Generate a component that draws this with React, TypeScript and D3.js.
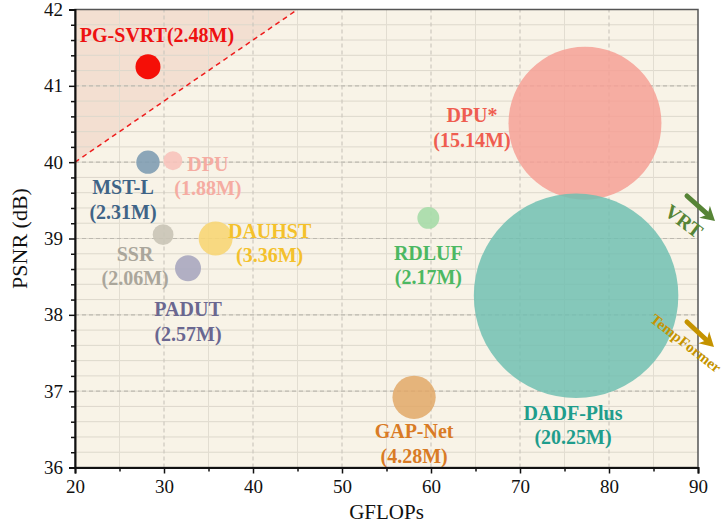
import * as d3 from "d3";
import { useEffect, useRef } from "react";

const names = ["PG-SVRT", "MST-L", "DPU", "SSR", "DAUHST", "PADUT", "RDLUF", "DPU*", "DADF-Plus", "GAP-Net"];
const gflops = [28.2, 28.2, 31.0, 29.9, 35.8, 32.7, 59.7, 77.3, 76.3, 58.1];
const psnr = [41.25, 40.0, 40.02, 39.05, 39.0, 38.61, 39.27, 40.51, 38.25, 36.92];
const params = [2.48, 2.31, 1.88, 2.06, 3.36, 2.57, 2.17, 15.14, 20.25, 4.28];
const fills = ["#f50f07", "#7f9db3", "#f7c3bb", "#c9c4b6", "#f7d676", "#a9a7bf", "#a6dba8", "#f6a095", "#71c0b2", "#e2a867"];
const textColors = ["#ee1111", "#3f6487", "#f5aca2", "#aaa69b", "#f4c12c", "#6a6790", "#4cb862", "#ef5d50", "#1f9d8c", "#d97b25"];
// label placement relative to the bubble centre, in pixels
const labelDx = [9, -25, 35, -28, 54, 0, 0, -113, -3, 0];
const labelDy = [-32, 25, 3, 19, -8, 41, 35, -8, 117, 34];

const xTicks = [20, 30, 40, 50, 60, 70, 80, 90];
const yTicks = [36, 37, 38, 39, 40, 41, 42];

const serif = "'Liberation Serif', 'Times New Roman', serif";

export default function App() {
  const ref = useRef<HTMLDivElement>(null);

  useEffect(() => {
    const width = 724;
    const height = 525;
    const margin = { top: 9.5, right: 26, bottom: 57.5, left: 75 };

    d3.select(ref.current).select("svg").remove();

    const svg = d3
      .select(ref.current)
      .append("svg")
      .attr("width", width)
      .attr("height", height)
      .style("display", "block")
      .attr("font-family", serif);

    const x = d3.scaleLinear().domain([20, 90]).range([margin.left, width - margin.right]);
    const y = d3.scaleLinear().domain([36, 42]).range([height - margin.bottom, margin.top]);
    const r = d3.scaleLinear().domain([0, 1]).range([0, 5.05]);

    const x0 = x(20), x1 = x(90), y0 = y(36), y1 = y(42);

    svg.append("rect")
      .attr("x", x0).attr("y", y1)
      .attr("width", x1 - x0).attr("height", y0 - y1)
      .attr("fill", "#f8f3e7");

    // shaded region above the dashed line
    svg.append("path")
      .attr("d", `M${x(20)},${y(40)} L${x(45)},${y(42)} L${x(20)},${y(42)} Z`)
      .attr("fill", "#f3dfd1");

    // minor grid
    const grid = svg.append("g");
    d3.range(36.2, 42, 0.2).forEach((v) => {
      grid.append("line")
        .attr("x1", x0).attr("x2", x1).attr("y1", y(v)).attr("y2", y(v))
        .attr("stroke", "#ddd8cc").attr("stroke-width", 1);
    });
    d3.range(25, 90, 10).forEach((v) => {
      grid.append("line")
        .attr("x1", x(v)).attr("x2", x(v)).attr("y1", y0).attr("y2", y1)
        .attr("stroke", "#e2ddd1").attr("stroke-width", 1);
    });
    // major grid
    yTicks.slice(1, -1).forEach((v) => {
      grid.append("line")
        .attr("x1", x0).attr("x2", x1).attr("y1", y(v)).attr("y2", y(v))
        .attr("stroke", "#bdb9b0").attr("stroke-dasharray", "4,3").attr("stroke-width", 1.2);
    });
    xTicks.slice(1, -1).forEach((v) => {
      grid.append("line")
        .attr("x1", x(v)).attr("x2", x(v)).attr("y1", y0).attr("y2", y1)
        .attr("stroke", "#cdc9bf").attr("stroke-dasharray", "4,3").attr("stroke-width", 1.2);
    });

    svg.append("line")
      .attr("x1", x(20)).attr("y1", y(40)).attr("x2", x(45)).attr("y2", y(42))
      .attr("stroke", "#ee1c1c").attr("stroke-width", 1.5).attr("stroke-dasharray", "5,4");

    // bubbles
    const idx = d3.range(names.length);
    svg.append("g")
      .selectAll("circle")
      .data(idx)
      .enter()
      .append("circle")
      .attr("cx", (i) => x(gflops[i]))
      .attr("cy", (i) => y(psnr[i]))
      .attr("r", (i) => r(params[i]))
      .attr("fill", (i) => fills[i])
      .attr("fill-opacity", (i) => (i === 0 ? 1 : i >= 7 ? 0.85 : 0.9));

    // labels
    const labels = svg.append("g")
      .attr("font-weight", "bold")
      .attr("font-size", 20)
      .attr("text-anchor", "middle");
    idx.forEach((i) => {
      const cx = x(gflops[i]) + labelDx[i];
      const cy = y(psnr[i]) + labelDy[i];
      const t = labels.append("text").attr("fill", textColors[i]);
      if (i === 0) {
        t.attr("x", cx).attr("y", cy).attr("dy", "0.35em").text(`${names[i]}(${params[i].toFixed(2)}M)`);
      } else {
        t.append("tspan").attr("x", cx).attr("y", cy).attr("dy", "0.35em").text(names[i]);
        t.append("tspan").attr("x", cx).attr("y", cy + 24.5).attr("dy", "0.35em").text(`(${params[i].toFixed(2)}M)`);
      }
    });

    // frame
    svg.append("rect")
      .attr("x", x0).attr("y", y1)
      .attr("width", x1 - x0).attr("height", y0 - y1)
      .attr("fill", "none").attr("stroke", "#555").attr("stroke-width", 1.5);

    svg.append("g")
      .attr("transform", `translate(0,${y0})`)
      .call(d3.axisBottom(x).tickValues(xTicks).tickFormat(d3.format("d")).tickSize(6).tickPadding(6));
    svg.append("g")
      .attr("transform", `translate(0,${y0})`)
      .call(d3.axisBottom(x).tickValues(d3.range(25, 90, 10)).tickFormat(() => "").tickSize(4))
      .call((g) => g.select(".domain").remove());

    svg.append("g")
      .attr("transform", `translate(${x0},0)`)
      .call(d3.axisLeft(y).tickValues(yTicks).tickFormat(d3.format("d")).tickSize(6).tickPadding(6));
    svg.append("g")
      .attr("transform", `translate(${x0},0)`)
      .call(d3.axisLeft(y).tickValues(d3.range(36.2, 42, 0.2).filter((v) => Math.abs(v - Math.round(v)) > 0.05)).tickFormat(() => "").tickSize(4))
      .call((g) => g.select(".domain").remove());

    svg.selectAll("g").filter(function () { return (this as Element).hasAttribute("font-family"); })
      .attr("font-family", serif);
    svg.selectAll(".domain").attr("stroke", "#111").attr("stroke-width", 2);
    svg.selectAll(".tick line").attr("stroke", "#111").attr("stroke-width", 1.5);
    svg.selectAll(".tick text")
      .attr("font-size", 19)
      .attr("font-family", serif)
      .attr("fill", "#111");

    svg.append("text")
      .attr("x", (x0 + x1) / 2).attr("y", 519)
      .attr("text-anchor", "middle").attr("font-size", 21).attr("fill", "#111")
      .text("GFLOPs");
    svg.append("text")
      .attr("transform", `translate(27,${(y0 + y1) / 2}) rotate(-90)`)
      .attr("text-anchor", "middle").attr("font-size", 22).attr("fill", "#111")
      .text("PSNR (dB)");

    // off-chart arrows
    const arrow = (xa: number, ya: number, xb: number, yb: number, color: string) => {
      const ang = Math.atan2(yb - ya, xb - xa);
      const hl = 14, hw = 8;
      const bx = xb - hl * Math.cos(ang), by = yb - hl * Math.sin(ang);
      svg.append("line")
        .attr("x1", xa).attr("y1", ya).attr("x2", bx + 3 * Math.cos(ang)).attr("y2", by + 3 * Math.sin(ang))
        .attr("stroke", color).attr("stroke-width", 5).attr("stroke-linecap", "round");
      const px = -Math.sin(ang) * hw, py = Math.cos(ang) * hw;
      svg.append("path")
        .attr("d", `M${xb},${yb} L${bx + px},${by + py} L${bx + hl * 0.3 * Math.cos(ang)},${by + hl * 0.3 * Math.sin(ang)} L${bx - px},${by - py} Z`)
        .attr("fill", color);
    };
    arrow(687, 196, 715, 221, "#568436");
    arrow(687, 322, 714, 347, "#c59300");

    svg.append("text")
      .attr("transform", "translate(684,221) rotate(37)")
      .attr("text-anchor", "middle").attr("font-weight", "bold").attr("font-size", 20)
      .attr("fill", "#568436").attr("dy", "0.35em")
      .text("VRT");
    svg.append("text")
      .attr("transform", "translate(686,343) rotate(38)")
      .attr("text-anchor", "middle").attr("font-weight", "bold").attr("font-size", 15)
      .attr("fill", "#c59300").attr("dy", "0.35em")
      .text("TempFormer");
  }, []);

  return <div ref={ref} style={{ position: "absolute", left: 0, top: 0 }}></div>;
}
